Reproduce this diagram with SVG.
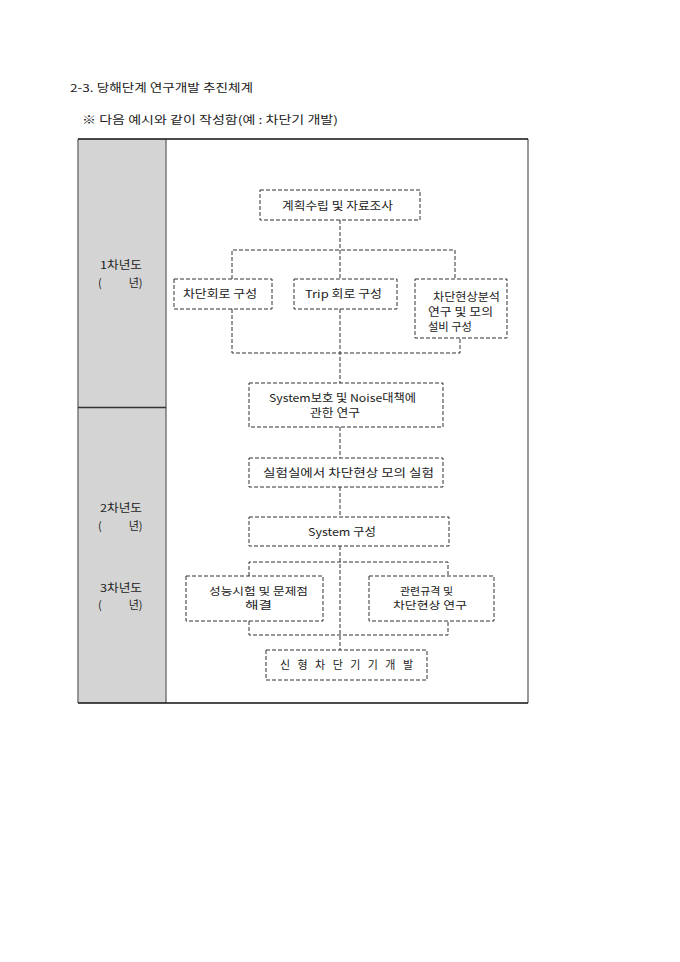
<svg xmlns="http://www.w3.org/2000/svg" width="680" height="962" viewBox="0 0 680 962">
<style>
text{font-family:"Noto Sans CJK KR","Noto Sans",sans-serif;font-size:11px;fill:#222}
.sm{font-size:10.5px}
.box{fill:none;stroke:#333;stroke-width:1;stroke-dasharray:4 2}
.con{fill:none;stroke:#333;stroke-width:1;stroke-dasharray:4 2}
</style>
<rect width="680" height="962" fill="#fff"/>
<g id="heading">
<text x="70" y="92" textLength="183" lengthAdjust="spacingAndGlyphs">2-3. 당해단계 연구개발 추진체계</text>
<text x="82" y="124" textLength="256" lengthAdjust="spacingAndGlyphs">※ 다음 예시와 같이 작성함(예 : 차단기 개발)</text>
</g>
<g id="table">
<rect x="78" y="139" width="88" height="564" fill="#d4d4d4"/>
<line x1="78" y1="139" x2="78" y2="703" stroke="#777" stroke-width="1.5"/>
<line x1="166" y1="139" x2="166" y2="703" stroke="#777" stroke-width="1.5"/>
<line x1="528" y1="139" x2="528" y2="703" stroke="#777" stroke-width="1.5"/>
<line x1="78" y1="139" x2="528" y2="139" stroke="#111" stroke-width="1.5"/>
<line x1="78" y1="703" x2="528" y2="703" stroke="#111" stroke-width="1.5"/>
<line x1="78" y1="407.5" x2="166" y2="407.5" stroke="#333" stroke-width="1.5"/>
<text x="100" y="269" textLength="42" lengthAdjust="spacingAndGlyphs">1차년도</text>
<text x="98" y="287">(<tspan dx="27">년)</tspan></text>
<text x="100" y="512" textLength="42" lengthAdjust="spacingAndGlyphs">2차년도</text>
<text x="98" y="530">(<tspan dx="27">년)</tspan></text>
<text x="100" y="592" textLength="42" lengthAdjust="spacingAndGlyphs">3차년도</text>
<text x="98" y="609">(<tspan dx="27">년)</tspan></text>
</g>
<g id="connectors">
<path class="con" d="M340 220 V279"/>
<path class="con" d="M232 279 V250 H455 V279"/>
<path class="con" d="M232 309 V353 H460 V338"/>
<path class="con" d="M340 309 V383"/>
<path class="con" d="M340 427 V458"/>
<path class="con" d="M340 487 V517"/>
<path class="con" d="M340 546 V650"/>
<path class="con" d="M249 576 V562 H448 V576"/>
<path class="con" d="M249 621 V635 H448 V621"/>
</g>
<g id="n-plan">
<rect class="box" x="260" y="190" width="160" height="30"/>
<text x="282" y="210" textLength="111" lengthAdjust="spacingAndGlyphs">계획수립 및 자료조사</text>
</g>
<g id="n-breaker-circuit">
<rect class="box" x="174" y="279" width="98" height="30"/>
<text x="183" y="298" textLength="74" lengthAdjust="spacingAndGlyphs">차단회로 구성</text>
</g>
<g id="n-trip">
<rect class="box" x="294" y="279" width="103" height="30"/>
<text x="305" y="298" textLength="77" lengthAdjust="spacingAndGlyphs">Trip 회로 구성</text>
</g>
<g id="n-analysis">
<rect class="box" x="415" y="279" width="92" height="59"/>
<text x="433" y="301" textLength="67" lengthAdjust="spacingAndGlyphs">차단현상분석</text>
<text x="428" y="316" textLength="65" lengthAdjust="spacingAndGlyphs">연구 및 모의</text>
<text x="428" y="331" textLength="44" lengthAdjust="spacingAndGlyphs">설비 구성</text>
</g>
<g id="n-protect">
<rect class="box" x="249" y="383" width="194" height="44"/>
<text x="269" y="402" textLength="147" lengthAdjust="spacingAndGlyphs">System보호 및 Noise대책에</text>
<text x="310" y="417" textLength="50" lengthAdjust="spacingAndGlyphs">관한 연구</text>
</g>
<g id="n-lab">
<rect class="box" x="249" y="458" width="194" height="29"/>
<text x="263" y="477" textLength="171" lengthAdjust="spacingAndGlyphs">실험실에서 차단현상 모의  실험</text>
</g>
<g id="n-system">
<rect class="box" x="249" y="517" width="200" height="29"/>
<text x="308" y="536" textLength="68" lengthAdjust="spacingAndGlyphs">System 구성</text>
</g>
<g id="n-perf">
<rect class="box" x="186" y="576" width="137" height="45"/>
<text class="sm" x="209" y="595" textLength="99" lengthAdjust="spacingAndGlyphs">성능시험 및 문제점</text>
<text class="sm" x="245" y="609" textLength="27" lengthAdjust="spacingAndGlyphs">해결</text>
</g>
<g id="n-spec">
<rect class="box" x="369" y="576" width="125" height="45"/>
<text class="sm" x="400" y="595" textLength="53" lengthAdjust="spacingAndGlyphs">관련규격 및</text>
<text class="sm" x="393" y="609" textLength="74" lengthAdjust="spacingAndGlyphs">차단현상 연구</text>
</g>
<g id="n-new">
<rect class="box" x="266" y="650" width="161" height="30"/>
<text x="280" y="669" textLength="133" lengthAdjust="spacing">신 형 차 단 기 기 개 발</text>
</g>
</svg>
